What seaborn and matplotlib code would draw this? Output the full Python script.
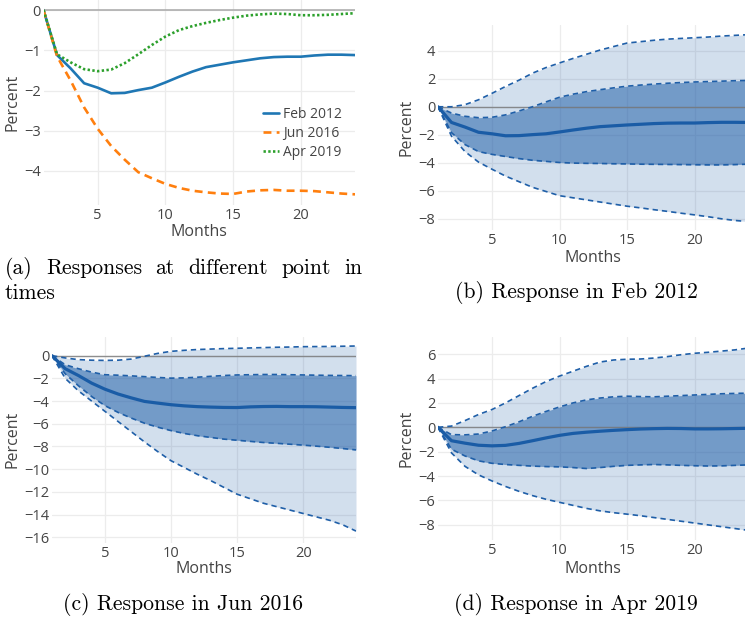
import numpy as np
import pandas as pd
import matplotlib
matplotlib.use("Agg")
import matplotlib.pyplot as plt
import seaborn as sns

# ---------------- data ----------------
months = list(range(1, 25))

feb2012 = [0, -1.12, -1.45, -1.82, -1.93, -2.07, -2.06, -1.99, -1.93, -1.8, -1.66, -1.53,
           -1.42, -1.36, -1.3, -1.25, -1.2, -1.17, -1.16, -1.16, -1.13, -1.11, -1.11, -1.12]
jun2016 = [0, -1.15, -1.75, -2.42, -2.95, -3.38, -3.72, -4.03, -4.18, -4.32, -4.42, -4.49,
           -4.53, -4.56, -4.57, -4.51, -4.48, -4.47, -4.49, -4.49, -4.5, -4.53, -4.56, -4.58]
apr2019 = [0, -1.1, -1.3, -1.47, -1.52, -1.48, -1.32, -1.1, -0.87, -0.66, -0.5, -0.4,
           -0.32, -0.25, -0.19, -0.14, -0.11, -0.09, -0.1, -0.13, -0.13, -0.12, -0.1, -0.08]

# Feb 2012 bands
feb2012_hi_outer = [0, 0.0, 0.15, 0.5, 0.96, 1.45, 1.9, 2.4, 2.8, 3.13, 3.45, 3.75,
                    4.05, 4.3, 4.55, 4.65, 4.75, 4.83, 4.88, 4.93, 4.98, 5.05, 5.1, 5.15]
feb2012_hi_inner = [0, -0.45, -0.68, -0.78, -0.75, -0.58, -0.3, 0.0, 0.35, 0.68, 0.9, 1.08,
                    1.22, 1.35, 1.47, 1.55, 1.62, 1.68, 1.73, 1.77, 1.8, 1.83, 1.86, 1.88]
feb2012_lo_inner = [0, -1.85, -2.7, -3.2, -3.4, -3.55, -3.7, -3.82, -3.9, -3.98, -4.02, -4.04,
                    -4.05, -4.07, -4.08, -4.1, -4.11, -4.12, -4.13, -4.14, -4.15, -4.15, -4.13, -4.1]
feb2012_lo_outer = [0, -2.1, -3.2, -3.95, -4.46, -4.95, -5.35, -5.75, -6.05, -6.35, -6.5, -6.65,
                    -6.8, -6.95, -7.1, -7.22, -7.35, -7.47, -7.6, -7.72, -7.85, -8.0, -8.12, -8.2]

# Jun 2016 bands
jun2016_hi_outer = [0, -0.2, -0.35, -0.4, -0.42, -0.4, -0.3, -0.05, 0.2, 0.38, 0.47, 0.54,
                    0.58, 0.62, 0.65, 0.68, 0.71, 0.74, 0.76, 0.79, 0.8, 0.81, 0.83, 0.85]
jun2016_hi_inner = [0, -0.8, -1.15, -1.45, -1.68, -1.72, -1.78, -1.85, -1.92, -1.98, -1.96, -1.9,
                    -1.82, -1.75, -1.7, -1.68, -1.66, -1.66, -1.68, -1.7, -1.72, -1.74, -1.75, -1.76]
jun2016_lo_inner = [0, -1.6, -2.65, -3.6, -4.4, -5.0, -5.5, -5.95, -6.3, -6.6, -6.85, -7.05,
                    -7.2, -7.35, -7.45, -7.55, -7.65, -7.72, -7.8, -7.88, -7.97, -8.07, -8.18, -8.3]
jun2016_lo_outer = [0, -2.0, -3.1, -4.0, -4.9, -5.8, -6.7, -7.6, -8.45, -9.25, -9.85, -10.45,
                    -11.0, -11.6, -12.2, -12.6, -13.0, -13.3, -13.6, -13.9, -14.2, -14.5, -14.9, -15.45]

# Apr 2019 bands
apr2019_hi_outer = [0, 0.1, 0.55, 1.05, 1.46, 2.0, 2.6, 3.2, 3.75, 4.2, 4.6, 5.0,
                    5.35, 5.52, 5.58, 5.6, 5.68, 5.8, 5.95, 6.07, 6.15, 6.25, 6.35, 6.5]
apr2019_hi_inner = [0, -0.6, -0.62, -0.55, -0.3, 0.05, 0.45, 0.9, 1.3, 1.67, 2.0, 2.25,
                    2.4, 2.5, 2.55, 2.52, 2.5, 2.55, 2.6, 2.65, 2.7, 2.75, 2.78, 2.8]
apr2019_lo_inner = [0, -1.8, -2.35, -2.75, -2.95, -3.05, -3.12, -3.18, -3.22, -3.24, -3.3, -3.38,
                    -3.3, -3.2, -3.12, -3.08, -3.05, -3.08, -3.12, -3.15, -3.17, -3.16, -3.12, -3.08]
apr2019_lo_outer = [0, -2.1, -3.2, -3.9, -4.4, -4.85, -5.25, -5.6, -5.9, -6.15, -6.4, -6.65,
                    -6.85, -7.0, -7.12, -7.25, -7.4, -7.55, -7.7, -7.85, -8.0, -8.15, -8.3, -8.45]

series_names = ["Feb 2012", "Jun 2016", "Apr 2019"]
series_colors = ["#1f77b4", "#ff7f0e", "#2ca02c"]

captions = ["(b) Response in Feb 2012", "(c) Response in Jun 2016", "(d) Response in Apr 2019"]
caption_a_words = ["(a)", "Responses", "at", "different", "point", "in"]
caption_a_line2 = "times"

# ---------------- style ----------------
sns.set_theme(style="white")
plt.rcParams["font.family"] = ["Open Sans", "DejaVu Sans"]
TXT = "#444444"
GRID = "#ececec"
SERIF = ["cmr10", "DejaVu Serif"]
TICK_FS = 10.5
TITLE_FS = 11.5

W, H = 745, 623
fig = plt.figure(figsize=(W / 100, H / 100), dpi=100)
fig.patch.set_facecolor("white")


def add_ax(left, top, right, bottom):
    return fig.add_axes([left / W, 1 - bottom / H, (right - left) / W, (bottom - top) / H])


def style_ax(ax, box, yticks, xlab_py, ylab_px):
    left, top, right, bottom = box
    ax.set_facecolor("white")
    for s in ax.spines.values():
        s.set_visible(False)
    ax.set_xticks([5, 10, 15, 20])
    ax.set_yticks(yticks)
    ax.tick_params(axis="both", length=0, labelsize=TICK_FS, labelcolor=TXT)
    ax.tick_params(axis="x", pad=2.5)
    ax.tick_params(axis="y", pad=2)
    ax.grid(True, color=GRID, linewidth=0.9)
    ax.set_axisbelow(True)
    ax.set_xlabel("Months", fontsize=TITLE_FS, color=TXT)
    ax.set_ylabel("Percent", fontsize=TITLE_FS, color=TXT)
    ax.xaxis.label.set_va("center")
    ax.yaxis.label.set_va("center")
    ax.xaxis.set_label_coords(0.5, (bottom - xlab_py) / (bottom - top))
    ax.yaxis.set_label_coords((ylab_px - left) / (right - left), 0.5)


# ---------------- panel (a) ----------------
box_a = (43.5, 0, 355, 205)
ax = add_ax(*box_a)
df = pd.DataFrame({
    "Months": months * 3,
    "Percent": feb2012 + jun2016 + apr2019,
    "series": sum([[n] * len(months) for n in series_names], []),
})
sns.lineplot(data=df, x="Months", y="Percent", hue="series", style="series",
             palette=dict(zip(series_names, series_colors)),
             dashes={"Feb 2012": "", "Jun 2016": (3.0, 2.0), "Apr 2019": (0.9, 0.9)},
             linewidth=1.9, ax=ax, zorder=3)
ax.axhline(0, color="#a8a8a8", linewidth=1.1, zorder=2)
ax.set_xlim(1, 24)
ax.set_ylim(-(205 - 10) / 40.25, 10 / 40.25)
style_ax(ax, box_a, [0, -1, -2, -3, -4], 232, 12)
h, l = ax.get_legend_handles_labels()
ax.legend(h, l, loc="upper left", bbox_to_anchor=(263 / W, 1 - 107 / H),
          bbox_transform=fig.transFigure, frameon=False, fontsize=10,
          handlelength=1.15, handletextpad=0.3, labelspacing=0.3,
          borderpad=0, borderaxespad=0, labelcolor=TXT)

# ---------------- band panels ----------------
BAND = (31 / 255, 95 / 255, 168 / 255)
LINEC = "#1f5fa8"
MEDC = "#1a5ca6"


def band_panel(box, ylim, yticks, med, hi_o, hi_i, lo_i, lo_o, xlab_py, ylab_px):
    ax = add_ax(*box)
    m = np.array(months)
    ax.fill_between(m, lo_o, hi_o, color=BAND, alpha=0.2, linewidth=0, zorder=1)
    ax.fill_between(m, lo_i, hi_i, color=BAND, alpha=0.53, linewidth=0, zorder=1.5)
    for arr in (hi_o, hi_i, lo_i, lo_o):
        sns.lineplot(x=months, y=arr, color=LINEC, linewidth=1.2, ax=ax,
                     dashes=False, zorder=3).lines[-1].set_dashes((3.2, 2.4))
    ax.axhline(0, color="#777777", linewidth=1.0, alpha=0.8, zorder=2)
    sns.lineplot(x=months, y=med, color=MEDC, linewidth=2.3, ax=ax, zorder=4)
    ax.set_xlim(1, 24)
    ax.set_ylim(*ylim)
    style_ax(ax, box, yticks, xlab_py, ylab_px)
    return ax


box_b = (438, 25, 748.5, 230)
band_panel(box_b, (-8.8, 5.84), [-8, -6, -4, -2, 0, 2, 4], feb2012,
           feb2012_hi_outer, feb2012_hi_inner, feb2012_lo_inner, feb2012_lo_outer, 258, 407)

box_c = (52, 336.7, 356, 543)
band_panel(box_c, (-16.5, 1.67), list(range(-16, 1, 2)), jun2016,
           jun2016_hi_outer, jun2016_hi_inner, jun2016_lo_inner, jun2016_lo_outer, 569, 13)

box_d = (438, 336.7, 748.5, 540)
band_panel(box_d, (-9.24, 7.43), list(range(-8, 7, 2)), apr2019,
           apr2019_hi_outer, apr2019_hi_inner, apr2019_lo_inner, apr2019_lo_outer, 569, 407)

# ---------------- captions ----------------
cap_fs = 15.6
# justified first line of caption (a), between x=5 and x=362
renderer = fig.canvas.get_renderer()
word_texts = [fig.text(0, 1 - 268 / H, w, ha="left", va="center", fontsize=cap_fs,
                       family=SERIF, color="black") for w in caption_a_words]
widths = [t.get_window_extent(renderer).width for t in word_texts]
x0, x1 = 5.0, 362.0
gap = (x1 - x0 - sum(widths)) / (len(widths) - 1)
x = x0
for t, wdt in zip(word_texts, widths):
    t.set_x(x / W)
    x += wdt + gap

fig.text(5 / W, 1 - 293 / H, caption_a_line2, ha="left", va="center", fontsize=cap_fs,
         family=SERIF, color="black")
fig.text(576 / W, 1 - 293 / H, captions[0], ha="center", va="center", fontsize=cap_fs,
         family=SERIF, color="black")
fig.text(183 / W, 1 - 604 / H, captions[1], ha="center", va="center", fontsize=cap_fs,
         family=SERIF, color="black")
fig.text(576 / W, 1 - 604 / H, captions[2], ha="center", va="center", fontsize=cap_fs,
         family=SERIF, color="black")

fig.savefig("out.png", dpi=100, facecolor="white")
